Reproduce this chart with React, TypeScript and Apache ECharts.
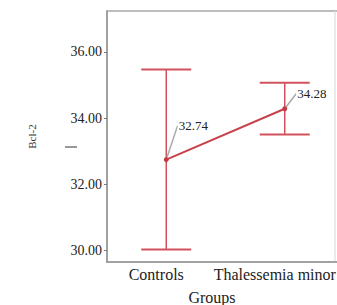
import React, { useEffect, useRef } from "react";
import * as echarts from "echarts";

const categories = ["Controls", "Thalessemia minor"];
const means = [32.74, 34.28];
const lowers = [30.02, 33.5];
const uppers = [35.47, 35.07];
const yTicks = [30, 32, 34, 36];

const FONT = "Liberation Serif";

export default function App() {
  const ref = useRef<HTMLDivElement>(null);
  useEffect(() => {
    const chart = echarts.init(ref.current!, null, { renderer: "svg" });
    const labelOffsets = [
      [27, -34],
      [27, -15],
    ];
    chart.setOption({
      animation: false,
      backgroundColor: "#ffffff",
      grid: {
        left: 107,
        right: -7,
        top: 11,
        bottom: 43,
        show: true,
        borderColor: "#a8a8a8",
        borderWidth: 1.5,
        outerBoundsMode: "none",
      },
      xAxis: {
        type: "category",
        data: categories,
        boundaryGap: true,
        axisLine: { lineStyle: { color: "#999", width: 1.5 } },
        axisTick: { alignWithLabel: true, length: 3, lineStyle: { color: "#999" } },
        axisLabel: {
          color: "#222",
          fontFamily: FONT,
          fontSize: 16,
          margin: 4,
          interval: 0,
          hideOverlap: false,
          padding: [0, 20, 0, 0],
        },
      },
      yAxis: {
        type: "value",
        min: 29.64,
        max: 37.24,
        splitLine: { show: false },
        axisLine: { show: true, lineStyle: { color: "#999", width: 1.5 } },
        axisTick: { show: true, length: 3, customValues: yTicks, lineStyle: { color: "#777" } },
        axisLabel: {
          customValues: yTicks,
          formatter: (v: number) => v.toFixed(2),
          color: "#222",
          fontFamily: FONT,
          fontSize: 14,
          margin: 5,
        },
        name: "Bcl-2",
        nameLocation: "middle",
        nameRotate: 90,
        nameGap: 70,
        nameTextStyle: { color: "#333", fontFamily: FONT, fontSize: 11 },
      },
      graphic: [
        { type: "line", shape: { x1: 335, y1: 11, x2: 335, y2: 262 }, style: { stroke: "#dcdcdc", lineWidth: 1.2 } },
        { type: "line", shape: { x1: 65, y1: 147, x2: 77, y2: 147 }, style: { stroke: "#555", lineWidth: 1.2 } },
        {
          type: "text",
          x: 212,
          y: 297,
          style: { text: "Groups", fontFamily: FONT, fontSize: 16, fill: "#222", align: "center", verticalAlign: "middle" },
        },
      ],
      series: [
        {
          type: "custom",
          data: categories.map((_, i) => [i, lowers[i], uppers[i]]),
          renderItem: (params: any, api: any) => {
            const x = api.value(0);
            const lo = api.coord([x, api.value(1)]);
            const hi = api.coord([x, api.value(2)]);
            const hw = 25;
            const style = { stroke: "#d2525c", lineWidth: 2 };
            return {
              type: "group",
              children: [
                { type: "line", shape: { x1: lo[0], y1: lo[1], x2: hi[0], y2: hi[1] }, style: { stroke: "#d2525c", lineWidth: 1.5 } },
                { type: "line", shape: { x1: lo[0] - hw, y1: lo[1], x2: lo[0] + hw, y2: lo[1] }, style },
                { type: "line", shape: { x1: hi[0] - hw, y1: hi[1], x2: hi[0] + hw, y2: hi[1] }, style },
              ],
            };
          },
          z: 2,
        },
        {
          type: "line",
          data: means,
          symbol: "circle",
          symbolSize: 5,
          itemStyle: { color: "#c23a45" },
          lineStyle: { color: "#c8424b", width: 2 },
          label: {
            show: true,
            formatter: (p: any) => Number(p.value).toFixed(2),
            fontFamily: FONT,
            fontSize: 13,
            color: "#222",
            backgroundColor: "#fff",
            padding: [1, 1],
            position: "inside",
          },
          labelLine: { show: true, lineStyle: { color: "#aaa", width: 1.5 } },
          labelLayout: (p: any) => ({ dx: labelOffsets[p.dataIndex][0], dy: labelOffsets[p.dataIndex][1] }),
          z: 3,
        },
      ],
    });
    return () => chart.dispose();
  }, []);
  return <div ref={ref} style={{ width: 337, height: 305, position: "absolute", left: 0, top: 0 }} />;
}
